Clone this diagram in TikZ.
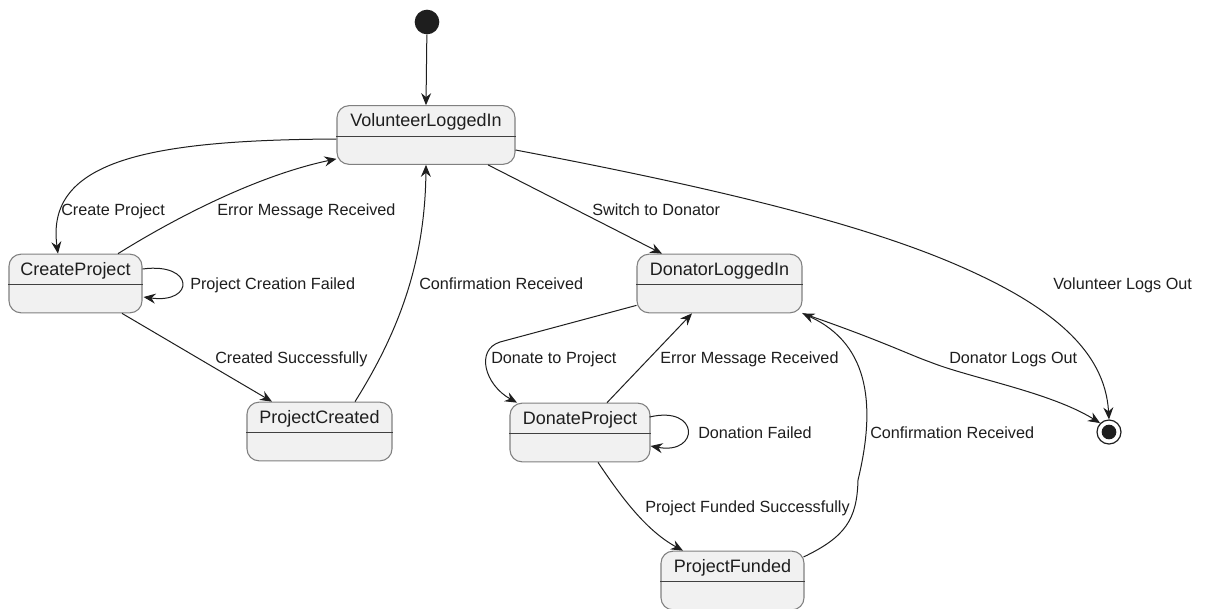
\documentclass[tikz,border=0pt]{standalone}
\usepackage{fontspec}
\setmainfont{Liberation Sans}
\usetikzlibrary{arrows.meta,calc}
\definecolor{boxfill}{HTML}{F1F1F1}
\definecolor{boxline}{HTML}{808080}
\definecolor{ink}{HTML}{1E1E1E}

\begin{document}
\begin{tikzpicture}[x=0.75pt,y=-0.75pt,
  statebox/.style={draw=boxline, fill=boxfill, rounded corners=9pt, line width=0.8pt,
    minimum height=44pt, inner sep=0pt, anchor=center},
  statename/.style={font=\fontsize{13.5}{16}\selectfont, text=ink, anchor=base, inner sep=0pt},
  divider/.style={draw=ink!85, line width=0.75pt},
  conn/.style={draw=ink, line width=0.75pt, -{Stealth[length=9pt,width=7.5pt,inset=3pt]}},
  lbl/.style={font=\fontsize{12.15}{14}\selectfont, text=ink, anchor=base west, inner sep=0pt}
]
\useasboundingbox (0,0) rectangle (1206,608);
\fill[white] (0,0) rectangle (1206,608);

% pseudo states
\node[circle, fill=ink, minimum size=18.5pt, inner sep=0pt] (start) at (427,22) {};
\node[circle, draw=ink, fill=white, line width=0.9pt, minimum size=18pt, inner sep=0pt] (stop) at (1109,432) {};
\node[circle, fill=ink, minimum size=11pt, inner sep=0pt] (stop-dot) at (stop) {};

% states
\node[statebox, minimum width=133.5pt] (VLI) at (426,135) {};
\node[statebox, minimum width=99.75pt] (CP) at (75.5,283.5) {};
\node[statebox, minimum width=108.75pt] (PC) at (319.5,431.5) {};
\node[statebox, minimum width=123.75pt] (DLI) at (719.5,283.5) {};
\node[statebox, minimum width=105pt] (DP) at (580,432.5) {};
\node[statebox, minimum width=107.25pt] (PF) at (732.5,580.5) {};

\foreach \s/\t in {VLI/VolunteerLoggedIn, CP/CreateProject, PC/ProjectCreated,
                   DLI/DonatorLoggedIn, DP/DonateProject, PF/ProjectFunded}{
  \draw[divider] ($(\s.west)+(0,1)$) -- ($(\s.east)+(0,1)$);
  \node[statename] (\s-name) at ($(\s.north)+(0,21.5)$) {\t};
}

% transitions
\draw[conn] (start) -- (VLI.north);
\draw[conn] ($(VLI.west)+(0,4)$) .. controls (150,140) and (45,160) .. ($(CP.north)+(-17.5,0)$);
\draw[conn] ($(CP.north)+(42.5,0)$) .. controls (180,215) and (260,175) .. ($(VLI.south west)+(0,-6)$);
\draw[conn] ($(CP.east)+(0,-14.5)$) .. controls (195,262) and (195,304) .. ($(CP.east)+(1,13.5)$);
\draw[conn] ($(CP.south)+(46.5,0)$) -- ($(PC.north)+(-47.5,0)$);
\draw[conn] ($(PC.north)+(35.5,0)$) .. controls (400,330) and (425,260) .. (VLI.south);
\draw[conn] ($(VLI.south)+(62,0)$) -- ($(DLI.north)+(-57.5,0)$);
\draw[conn] ($(VLI.east)+(0,15)$) .. controls (700,185) and (850,220) .. (950,262)
            .. controls (1050,304) and (1105,350) .. (stop.north);
\draw[conn] ($(DLI.south west)+(0,-8)$) -- (500,342) .. controls (475,350) and (485,385) .. ($(DP.north)+(-63,0)$);
\draw[conn] ($(DP.north)+(27,0)$) -- ($(DLI.south)+(-27.5,0)$);
\draw[conn] ($(DP.east)+(-1,-15.5)$) .. controls (700,405) and (700,455) .. ($(DP.east)+(0,13.5)$);
\draw[conn] ($(DP.south)+(18,0)$) .. controls (620,495) and (645,530) .. ($(PF.north)+(-49.5,0)$);
\draw[conn] ($(PF.east)+(-1,-23.5)$) .. controls (845,537) and (857,520) .. (858,480)
            .. controls (875,410) and (872,345) .. (DLI.south east);
\draw[conn] (DLI.south east) .. controls (880,340) and (910,355) .. (930,362)
            .. controls (970,378) and (1050,392) .. (stop.north west);

% transition labels
\node[lbl] (l-create) at (61,215) {Create Project};
\node[lbl] (l-err1) at (217,215) {Error Message Received};
\node[lbl] (l-switch) at (592,215) {Switch to Donator};
\node[lbl] (l-fail1) at (190,289) {Project Creation Failed};
\node[lbl] (l-conf1) at (419,289) {Confirmation Received};
\node[lbl] (l-vout) at (1053,289) {Volunteer Logs Out};
\node[lbl] (l-created) at (215,363) {Created Successfully};
\node[lbl] (l-donate) at (491,363) {Donate to Project};
\node[lbl] (l-err2) at (660,363) {Error Message Received};
\node[lbl] (l-dout) at (949,363) {Donator Logs Out};
\node[lbl] (l-fail2) at (698,438) {Donation Failed};
\node[lbl] (l-conf2) at (870,438) {Confirmation Received};
\node[lbl] (l-funded) at (645,512) {Project Funded Successfully};
\end{tikzpicture}
\end{document}
